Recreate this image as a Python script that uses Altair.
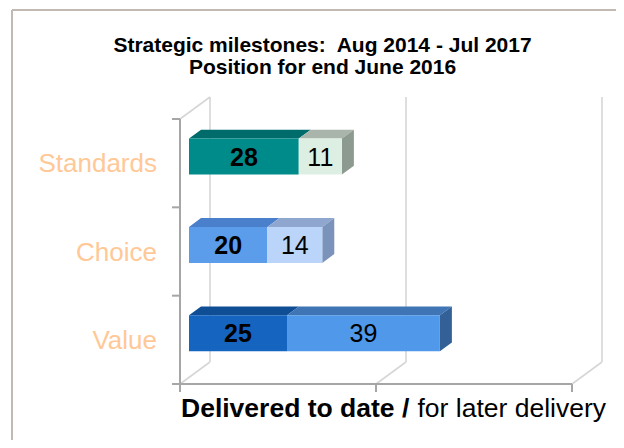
import altair as alt
import pandas as pd

# ---------------- data ----------------
categories = ["Standards", "Choice", "Value"]
delivered = [28, 20, 25]
later = [11, 14, 39]
x_ticks = [0, 50, 100]
y_ticks = [0, 1, 2, 3]
title_lines = ["Strategic milestones:\u00a0 Aug 2014 - Jul 2017", "Position for end June 2016"]
axis_title_bold = "Delivered to date /"
axis_title_normal = "for later delivery"

# ---------------- style ----------------
FONT = "Liberation Sans, Arial, sans-serif"
W, H = 392, 265
X_MAX = 100
N = len(categories)
PX_X = W / X_MAX
PX_Y = H / N
DX = 30 / PX_X          # full depth of the 3-D box, x units
DY = 22 / PX_Y          # full depth of the 3-D box, y units
BAR_FRONT, BAR_BACK = 0.3, 0.7
BAR_HALF = 18 / PX_Y

front_col = {"Standards": ("#008B8B", "#DDEFE3"),
             "Choice": ("#5B9CEB", "#BAD5F9"),
             "Value": ("#1565C0", "#4F98EA")}
top_col = {"Standards": ("#006B6B", "#A9B5AB"),
           "Choice": ("#4A7FCB", "#8FA7CF"),
           "Value": ("#0F4D94", "#3F74B5")}
side_col = {"Standards": "#8D9A8F", "Choice": "#7B93BA", "Value": "#336096"}
LABEL_COL = "#FFC896"
AXIS_COL = "#A6A6A6"
GRID_COL = "#D6D6D6"
FRAME_COL = "#C2BAB2"

# ---------------- build tables ----------------
fx, fy = BAR_FRONT * DX, BAR_FRONT * DY
bx, by = BAR_BACK * DX, BAR_BACK * DY
fronts, tops, sides, labels = [], [], [], []
for i, cat in enumerate(categories):
    c = N - i - 0.5
    segs = [(0, delivered[i], 0), (delivered[i], delivered[i] + later[i], 1)]
    for s0, s1, k in segs:
        sid = f"{cat}-{k}"
        fronts.append(dict(x=s0 + fx, x2=s1 + fx, y=c - BAR_HALF + fy, y2=c + BAR_HALF + fy,
                           fill=front_col[cat][k]))
        for sx, sy in [(fx, fy), (bx, by)]:
            tops.append(dict(id=sid, y=c + BAR_HALF + sy, x=s0 + sx, x2=s1 + sx, fill=top_col[cat][k]))
        labels.append(dict(x=(s0 + s1) / 2 + fx, y=c + fy,
                           t=str(delivered[i] if k == 0 else later[i]), k=k))
    end = delivered[i] + later[i]
    for sx, sy in [(fx, fy), (bx, by)]:
        sides.append(dict(id=cat, x=end + sx, y=c - BAR_HALF + sy, y2=c + BAR_HALF + sy, fill=side_col[cat]))

walls = []
for g in x_ticks:
    walls.append(dict(x=g + DX, x2=g + DX, y=DY, y2=N + DY))   # back wall gridline
    walls.append(dict(x=g, x2=g + DX, y=0, y2=DY))             # floor diagonal
walls.append(dict(x=0, x2=DX, y=N, y2=N + DY))                 # left wall top edge

axes_lines = [dict(x=0, x2=0, y=0, y2=N), dict(x=0, x2=X_MAX, y=0, y2=0)]

cat_df = pd.DataFrame(dict(cat=categories, y=[N - i - 0.5 for i in range(N)]))
one = pd.DataFrame({"a": [0]})

xs = alt.Scale(domain=[0, X_MAX], nice=False, zero=False)
ys = alt.Scale(domain=[0, N], nice=False, zero=False)


def X(f="x", **kw):
    return alt.X(f"{f}:Q", scale=xs, axis=None, title=None, **kw)


def Y(f="y", **kw):
    return alt.Y(f"{f}:Q", scale=ys, axis=None, title=None, **kw)


wall_layer = alt.Chart(pd.DataFrame(walls)).mark_rule(color=GRID_COL, strokeWidth=1.6).encode(
    x=X(), x2="x2:Q", y=Y(), y2="y2:Q")

axis_layer = alt.Chart(pd.DataFrame(axes_lines)).mark_rule(color=AXIS_COL, strokeWidth=2).encode(
    x=X(), x2="x2:Q", y=Y(), y2="y2:Q")
ytick_layer = alt.Chart(pd.DataFrame(dict(y=y_ticks, x=[0] * len(y_ticks)))).mark_rule(
    color=AXIS_COL, strokeWidth=2).encode(x=X(), x2=alt.value(-8), y=Y())
xtick_layer = alt.Chart(pd.DataFrame(dict(x=x_ticks, y=[0] * len(x_ticks)))).mark_rule(
    color=AXIS_COL, strokeWidth=2).encode(x=X(), y=Y(), y2=alt.value(H + 8))

top_layer = alt.Chart(pd.DataFrame(tops)).mark_area(orient="horizontal").encode(
    y=Y(), x=X(stack=None), x2="x2:Q", detail="id:N", color=alt.Color("fill:N", scale=None))

side_layer = alt.Chart(pd.DataFrame(sides)).mark_area(orient="vertical").encode(
    x=X(), y=Y(stack=None), y2="y2:Q", detail="id:N", color=alt.Color("fill:N", scale=None))

front_layer = alt.Chart(pd.DataFrame(fronts)).mark_rect().encode(
    x=X(), x2="x2:Q", y=Y(), y2="y2:Q", color=alt.Color("fill:N", scale=None))

lab_df = pd.DataFrame(labels)
bold_labels = alt.Chart(lab_df[lab_df.k == 0]).mark_text(
    font=FONT, fontSize=25, fontWeight="bold", color="#000000", baseline="middle", dy=1).encode(
    x=X(), y=Y(), text="t:N")
norm_labels = alt.Chart(lab_df[lab_df.k == 1]).mark_text(
    font=FONT, fontSize=25, color="#000000", baseline="middle", dy=1).encode(
    x=X(), y=Y(), text="t:N")

cat_labels = alt.Chart(cat_df).mark_text(
    font=FONT, fontSize=26, color=LABEL_COL, align="right", baseline="middle", dy=1).encode(
    x=alt.value(-23), y=Y(), text="cat:N")

title1 = alt.Chart(one).mark_text(font=FONT, fontSize=21, fontWeight="bold", color="#000000",
                                  align="center", baseline="alphabetic").encode(
    x=alt.value(142.5), y=alt.value(-67), text=alt.value(title_lines[0]))
title2 = alt.Chart(one).mark_text(font=FONT, fontSize=21, fontWeight="bold", color="#000000",
                                  align="center", baseline="alphabetic").encode(
    x=alt.value(142.5), y=alt.value(-45), text=alt.value(title_lines[1]))

xt_bold = alt.Chart(one).mark_text(font=FONT, fontSize=26.5, fontWeight="bold", color="#000000",
                                   align="left", baseline="alphabetic").encode(
    x=alt.value(1), y=alt.value(298), text=alt.value(axis_title_bold))
xt_norm = alt.Chart(one).mark_text(font=FONT, fontSize=26.5, color="#000000",
                                   align="right", baseline="alphabetic").encode(
    x=alt.value(426), y=alt.value(298), text=alt.value(axis_title_normal))

frame_v = alt.Chart(one).mark_rule(color=FRAME_COL, strokeWidth=2).encode(
    x=alt.value(-168), y=alt.value(-109), y2=alt.value(330))
frame_h = alt.Chart(one).mark_rule(color=FRAME_COL, strokeWidth=2).encode(
    x=alt.value(-168), x2=alt.value(445), y=alt.value(-109))

chart = alt.layer(
    frame_v, frame_h, wall_layer, axis_layer, ytick_layer, xtick_layer,
    top_layer, side_layer, front_layer,
    bold_labels, norm_labels, cat_labels, title1, title2, xt_bold, xt_norm
).properties(
    width=W, height=H,
    autosize=alt.AutoSizeParams(type="none"),
    padding={"left": 172, "top": 111, "right": 44, "bottom": 56},
    background="white",
).configure_view(stroke=None)

chart.save("out.html", embed_options={"renderer": "svg", "actions": False})
